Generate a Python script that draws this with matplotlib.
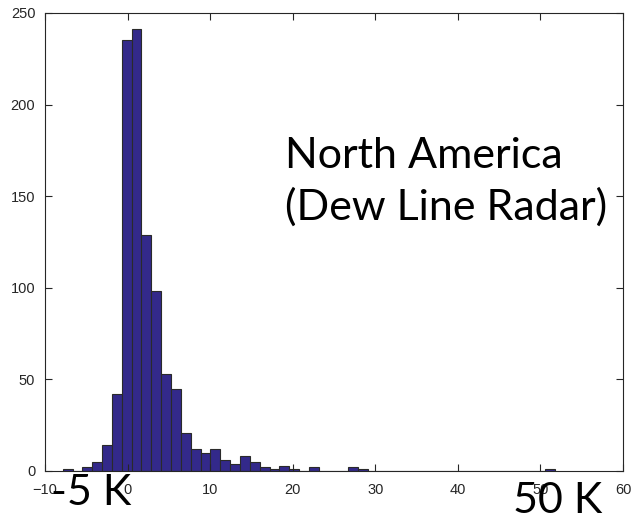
import numpy as np
import matplotlib
matplotlib.use('Agg')
import matplotlib.pyplot as plt

# histogram of range error, 50 equal bins between the sample min and max
x_min = -7.86
x_max = 51.8
counts = [1, 0, 2, 5, 14, 42, 235, 241, 129, 98,
          53, 45, 21, 12, 10, 12, 6, 4, 8, 5,
          2, 1, 3, 1, 0, 2, 0, 0, 0, 2,
          1, 0, 0, 0, 0, 0, 0, 0, 0, 0,
          0, 0, 0, 0, 0, 0, 0, 0, 0, 1]
x_ticks = [-10, 0, 10, 20, 30, 40, 50, 60]
y_ticks = [0, 50, 100, 150, 200, 250]
title_lines = ["North America", "(Dew Line Radar)"]
range_labels = ["-5 K", "50 K"]

W, H = 641, 526
fig = plt.figure(figsize=(W / 100, H / 100), dpi=100)
ax = fig.add_axes([45 / W, 1 - 471 / H, 578 / W, 458 / H])

edges = np.linspace(x_min, x_max, len(counts) + 1)
ax.bar(edges[:-1], counts, width=np.diff(edges), align='edge',
       color='#33298a', edgecolor='#2a2a2a', linewidth=0.8)

ax.set_xlim(-10, 60)
ax.set_ylim(0, 250)
ax.set_xticks(x_ticks)
ax.set_yticks(y_ticks)

axcol = '#262626'
for s in ax.spines.values():
    s.set_color(axcol)
    s.set_linewidth(0.8)
ax.tick_params(direction='in', length=5, width=0.8, color=axcol,
               top=True, right=True, labelcolor=axcol, labelsize=10.5)
ax.tick_params(axis='x', pad=9)
ax.tick_params(axis='y', pad=7)
for lab in ax.get_xticklabels() + ax.get_yticklabels():
    lab.set_family('Liberation Sans')

big = dict(family='Lato', fontsize=31, color='black', va='baseline', ha='left')
fig.text(285 / W, 1 - 168 / H, title_lines[0], **big)
fig.text(285 / W, 1 - 220 / H, title_lines[1], **big)
fig.text(51 / W, 1 - 505 / H, range_labels[0], zorder=5, **big)
fig.text(513 / W, 1 - 513 / H, range_labels[1], zorder=5, **big)

fig.savefig('out.png', dpi=100)
